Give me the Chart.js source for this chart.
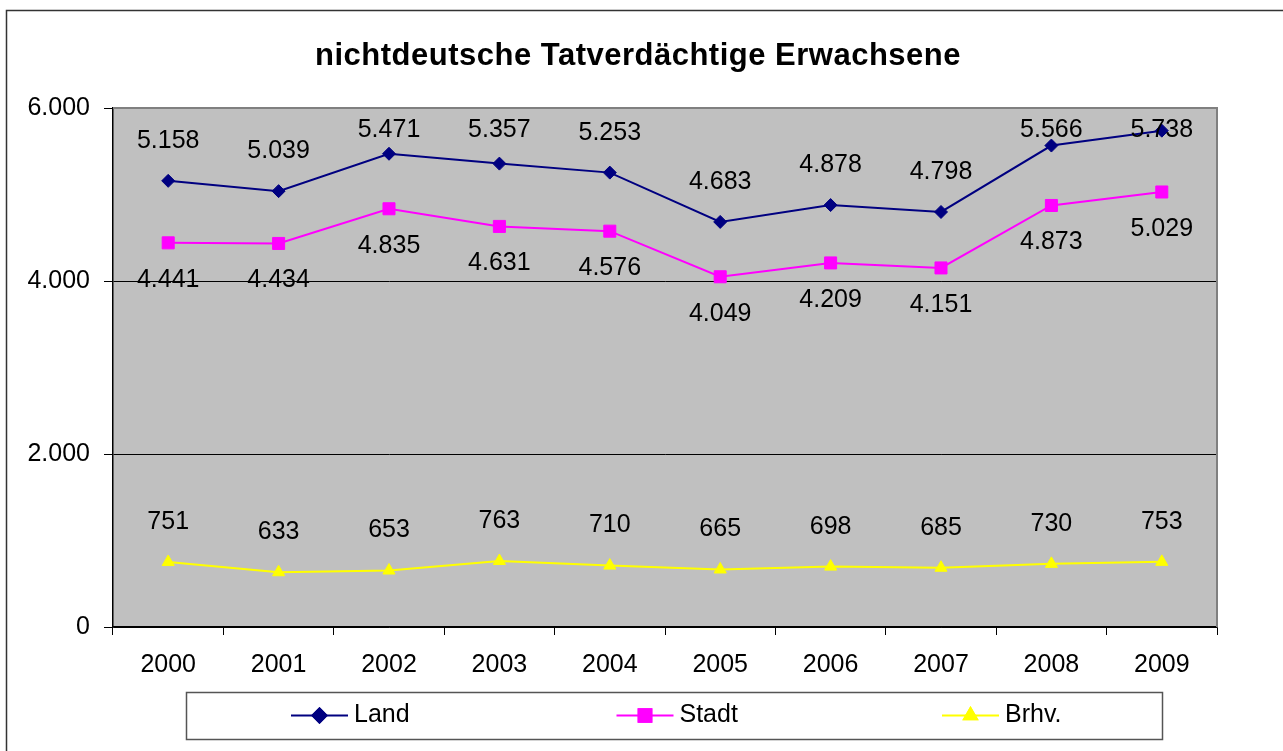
<!DOCTYPE html>
<html lang="de">
<head>
<meta charset="utf-8">
<title>nichtdeutsche Tatverdächtige Erwachsene</title>
<script src="https://cdn.jsdelivr.net/npm/chart.js@4/dist/chart.umd.min.js"></script>
<style>
    html, body { margin: 0; padding: 0; background: #fff; }
    canvas { display: block; }
</style>
</head>
<body>
<canvas id="tvChart" width="1283" height="751"></canvas>
<script>
// Jahre und Werte je Gebiet
const jahre = ['2000', '2001', '2002', '2003', '2004', '2005', '2006', '2007', '2008', '2009'];
const land = [5158, 5039, 5471, 5357, 5253, 4683, 4878, 4798, 5566, 5738];
const stadt = [4441, 4434, 4835, 4631, 4576, 4049, 4209, 4151, 4873, 5029];
const brhv = [751, 633, 653, 763, 710, 665, 698, 685, 730, 753];
const yTicks = [0, 2000, 4000, 6000];

const titel = 'nichtdeutsche Tatverdächtige Erwachsene';
const schrift = "'Liberation Sans', Arial, sans-serif";

// Zahl mit Tausenderpunkt (5158 -> 5.158)
function fmt(v) {
    return String(v).replace(/\B(?=(\d{3})+(?!\d))/g, '.');
}

// Abstand der Wertbeschriftung zum Punkt: negativ = oberhalb
const labelOffset = [-40, 37, -40];

// Hintergrund, Rahmen, Titel
const rahmenPlugin = {
    id: 'rahmen',
    beforeDraw(chart) {
        const { ctx, chartArea: a } = chart;
        ctx.save();
        ctx.fillStyle = '#fff';
        ctx.fillRect(0, 0, chart.width, chart.height);
        ctx.strokeStyle = '#333';
        ctx.lineWidth = 1.5;
        ctx.strokeRect(6.5, 10.5, chart.width + 20, chart.height + 20);
        ctx.fillStyle = '#c0c0c0';
        ctx.fillRect(a.left, a.top, a.right - a.left, a.bottom - a.top);
        ctx.fillStyle = '#000';
        ctx.font = 'bold 31px ' + schrift;
        ctx.letterSpacing = '0.5px';
        ctx.textAlign = 'center';
        ctx.textBaseline = 'alphabetic';
        ctx.fillText(titel, 638, 65);
        ctx.restore();
    },
    afterDraw(chart) {
        const { ctx, chartArea: a } = chart;
        ctx.save();
        ctx.strokeStyle = '#808080';
        ctx.lineWidth = 2;
        ctx.beginPath();
        ctx.moveTo(a.left, a.top);
        ctx.lineTo(a.right, a.top);
        ctx.lineTo(a.right, a.bottom);
        ctx.stroke();
        ctx.restore();
    }
};

// Wertbeschriftungen an den Punkten
const wertePlugin = {
    id: 'werte',
    afterDatasetsDraw(chart) {
        const { ctx, chartArea: a } = chart;
        ctx.save();
        ctx.font = '25px ' + schrift;
        ctx.fillStyle = '#000';
        ctx.textAlign = 'center';
        ctx.textBaseline = 'middle';
        chart.data.datasets.forEach((ds, i) => {
            chart.getDatasetMeta(i).data.forEach((pt, j) => {
                let y = pt.y + labelOffset[i];
                if (y < a.top + 22) y = a.top + 22;
                ctx.fillText(fmt(ds.data[j]), pt.x, y);
            });
        });
        ctx.restore();
    }
};

// Legende im Kasten unter dem Diagramm
const legendePlugin = {
    id: 'legende',
    afterDraw(chart) {
        const { ctx } = chart;
        const box = { x: 186, y: 692, w: 976, h: 47 };
        ctx.save();
        ctx.strokeStyle = '#555';
        ctx.lineWidth = 1.5;
        ctx.strokeRect(box.x + 0.5, box.y + 0.5, box.w, box.h);
        const yMid = box.y + box.h / 2;
        chart.data.datasets.forEach((ds, i) => {
            const x0 = box.x + 105 + i * 325.5;
            ctx.strokeStyle = ds.borderColor;
            ctx.lineWidth = 2;
            ctx.beginPath();
            ctx.moveTo(x0, yMid);
            ctx.lineTo(x0 + 57, yMid);
            ctx.stroke();
            Chart.helpers.drawPoint(ctx, {
                pointStyle: ds.pointStyle,
                radius: ds.pointRadius + 0.5,
                borderWidth: 1,
                rotation: 0
            }, x0 + 28.5, yMid);
            ctx.fillStyle = ds.pointBackgroundColor;
            ctx.strokeStyle = ds.pointBackgroundColor;
            ctx.fill();
            ctx.stroke();
            ctx.fillStyle = '#000';
            ctx.font = '25px ' + schrift;
            ctx.textAlign = 'left';
            ctx.textBaseline = 'middle';
            ctx.fillText(ds.label, x0 + 63, yMid);
        });
        ctx.restore();
    }
};

function serie(label, data, farbe, stil, radius) {
    return {
        label: label,
        data: data,
        borderColor: farbe,
        backgroundColor: farbe,
        pointBackgroundColor: farbe,
        pointBorderColor: farbe,
        borderWidth: 2,
        pointStyle: stil,
        pointRadius: radius,
        pointHoverRadius: radius,
        pointBorderWidth: 1,
        tension: 0,
        fill: false
    };
}

const ctx = document.getElementById('tvChart').getContext('2d');
new Chart(ctx, {
    type: 'line',
    data: {
        labels: jahre,
        datasets: [
            serie('Land', land, '#000080', 'rectRot', 6.5),
            serie('Stadt', stadt, '#ff00ff', 'rect', 8.5),
            serie('Brhv.', brhv, '#ffff00', 'triangle', 7)
        ]
    },
    options: {
        responsive: false,
        animation: false,
        events: [],
        layout: { padding: { top: 108, right: 66, bottom: 0, left: 0 } },
        plugins: {
            legend: { display: false },
            title: { display: false },
            tooltip: { enabled: false }
        },
        scales: {
            x: {
                offset: true,
                grid: {
                    offset: true,
                    drawOnChartArea: false,
                    drawTicks: true,
                    tickLength: 8,
                    tickColor: '#000'
                },
                border: { color: '#000', width: 1.5 },
                ticks: {
                    color: '#000',
                    font: { family: schrift, size: 25 },
                    padding: 15,
                    maxRotation: 0
                },
                afterFit(scale) { scale.height = 124; }
            },
            y: {
                min: 0,
                max: 6000,
                afterBuildTicks(scale) {
                    scale.ticks = yTicks.map(v => ({ value: v }));
                },
                grid: {
                    color: c => (c.tick && c.tick.value === 6000 ? '#808080' : '#000'),
                    lineWidth: 1,
                    tickLength: 9,
                    tickColor: '#000'
                },
                border: { color: '#000', width: 1.5 },
                ticks: {
                    color: '#000',
                    font: { family: schrift, size: 25 },
                    padding: 14,
                    callback: v => fmt(v)
                },
                afterFit(scale) { scale.width = 113; }
            }
        }
    },
    plugins: [rahmenPlugin, wertePlugin, legendePlugin]
});
</script>
</body>
</html>
